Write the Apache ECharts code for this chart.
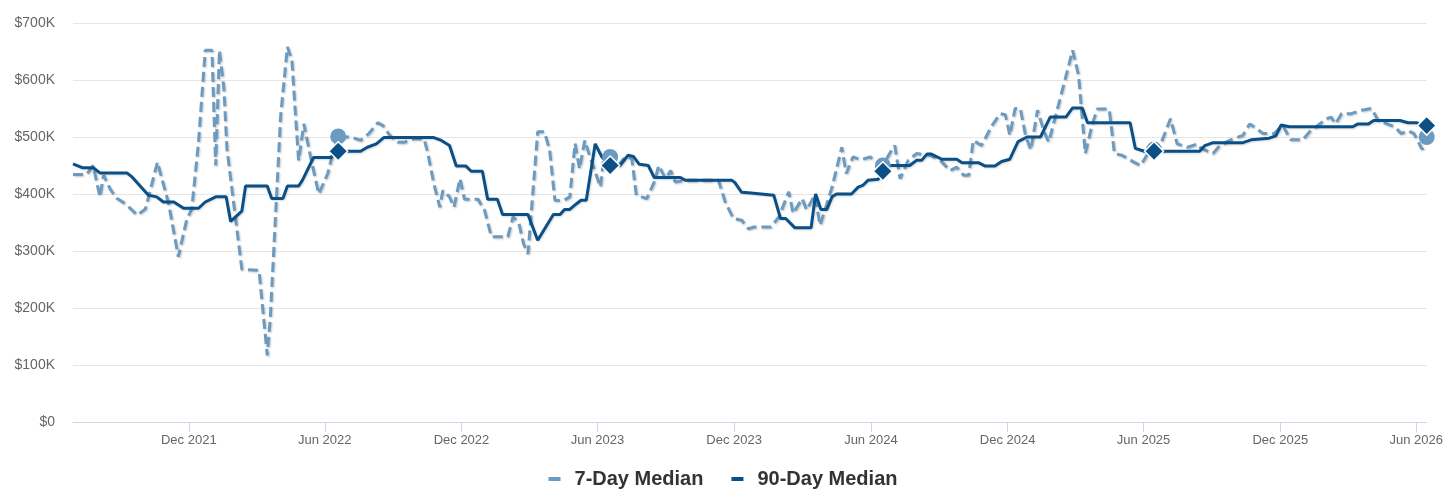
<!DOCTYPE html>
<html><head><meta charset="utf-8">
<script src="https://cdn.jsdelivr.net/npm/echarts@6/dist/echarts.min.js"></script>
<style>html,body{margin:0;padding:0;background:#fff}#c{width:1446px;height:495px}</style>
</head><body><div id="c"></div>
<script>
// ---------- DATA ----------
const seriesNames = ['7-Day Median', '90-Day Median'];

const dates7 = ['2021-06-29','2021-07-17','2021-07-26','2021-08-04','2021-08-09','2021-08-18','2021-08-27','2021-09-07','2021-09-23','2021-10-04','2021-10-20','2021-11-04','2021-11-17','2021-11-28','2021-12-05','2021-12-14','2021-12-23','2022-01-01','2022-01-06','2022-01-11','2022-01-17','2022-01-21','2022-02-10','2022-03-05','2022-03-16','2022-03-20','2022-04-03','2022-04-12','2022-04-18','2022-04-23','2022-04-27','2022-05-04','2022-05-13','2022-05-24','2022-06-05','2022-06-11','2022-06-19','2022-07-06','2022-07-19','2022-07-30','2022-08-11','2022-08-18','2022-08-27','2022-09-07','2022-09-16','2022-09-29','2022-10-12','2022-10-17','2022-10-25','2022-11-02','2022-11-06','2022-11-15','2022-11-21','2022-11-29','2022-12-05','2022-12-23','2023-01-01','2023-01-10','2023-02-01','2023-02-08','2023-02-16','2023-02-22','2023-02-28','2023-03-13','2023-03-22','2023-03-29','2023-04-05','2023-04-16','2023-04-25','2023-05-02','2023-05-08','2023-05-15','2023-05-22','2023-06-05','2023-06-09','2023-06-18','2023-06-29','2023-07-08','2023-07-17','2023-07-23','2023-08-06','2023-08-17','2023-08-22','2023-08-31','2023-09-07','2023-09-13','2023-09-27','2023-11-10','2023-11-19','2023-11-30','2023-12-11','2023-12-20','2023-12-27','2024-01-19','2024-01-30','2024-02-12','2024-02-18','2024-03-01','2024-03-07','2024-03-18','2024-03-25','2024-04-10','2024-04-23','2024-04-29','2024-05-08','2024-05-19','2024-05-31','2024-06-13','2024-06-17','2024-06-26','2024-07-03','2024-07-10','2024-07-21','2024-08-01','2024-08-19','2024-09-02','2024-09-15','2024-09-24','2024-10-03','2024-10-10','2024-10-16','2024-10-27','2024-11-10','2024-11-21','2024-11-28','2024-12-04','2024-12-11','2024-12-18','2024-12-25','2025-01-01','2025-01-10','2025-01-19','2025-01-25','2025-02-07','2025-02-15','2025-02-26','2025-03-06','2025-03-15','2025-03-24','2025-03-31','2025-04-16','2025-04-23','2025-05-03','2025-05-19','2025-05-28','2025-06-09','2025-06-15','2025-06-24','2025-07-07','2025-07-16','2025-07-30','2025-08-12','2025-08-17','2025-09-02','2025-09-11','2025-09-24','2025-10-12','2025-10-21','2025-10-30','2025-11-08','2025-11-23','2025-12-04','2025-12-15','2025-12-31','2026-01-09','2026-01-21','2026-02-01','2026-02-07','2026-02-13','2026-02-21','2026-03-06','2026-03-20','2026-04-02','2026-04-11','2026-04-27','2026-05-03','2026-05-12','2026-05-21','2026-05-29','2026-06-09','2026-06-15'];
const values7 = [434,434,450,395,433,408,392,383,363,374,456,383,290,354,374,491,652,652,450,652,585,480,268,266,117,181,538,658,635,535,459,523,465,400,436,468,501,500,494,506,525,520,503,491,491,497,497,471,418,377,406,395,377,427,391,391,371,325,325,360,348,313,295,509,509,477,389,388,395,489,444,494,465,412,459,465,450,465,462,398,392,424,450,427,441,421,424,424,386,357,354,339,342,342,360,404,366,392,372,398,345,412,482,436,465,460,465,453,450,471,485,427,459,471,468,459,441,447,433,433,494,485,520,541,539,503,550,550,503,477,547,509,491,556,596,652,608,471,521,549,549,471,468,456,450,476,478,488,532,488,482,488,480,471,485,494,503,523,515,506,506,521,495,495,509,521,532,535,523,541,541,547,550,529,521,518,506,511,506,478,500];

const dates90 = ['2021-06-29','2021-07-12','2021-07-26','2021-08-04','2021-09-09','2021-09-16','2021-10-08','2021-10-19','2021-10-28','2021-11-11','2021-11-24','2021-12-14','2021-12-23','2022-01-06','2022-01-20','2022-01-26','2022-02-10','2022-02-15','2022-03-16','2022-03-22','2022-04-06','2022-04-12','2022-04-27','2022-05-02','2022-05-17','2022-06-09','2022-06-19','2022-07-19','2022-07-28','2022-08-09','2022-08-19','2022-10-25','2022-11-04','2022-11-15','2022-11-24','2022-12-07','2022-12-14','2022-12-29','2023-01-05','2023-01-18','2023-01-25','2023-02-28','2023-03-13','2023-04-03','2023-04-12','2023-04-18','2023-04-25','2023-05-04','2023-05-10','2023-05-17','2023-05-29','2023-06-07','2023-06-18','2023-07-01','2023-07-12','2023-07-19','2023-07-27','2023-08-08','2023-08-16','2023-09-20','2023-09-27','2023-11-28','2023-12-02','2023-12-11','2023-12-20','2024-01-23','2024-02-01','2024-02-08','2024-02-20','2024-03-13','2024-03-19','2024-03-26','2024-04-03','2024-04-10','2024-04-16','2024-05-06','2024-05-15','2024-05-21','2024-05-28','2024-06-11','2024-06-17','2024-06-26','2024-07-23','2024-08-01','2024-08-08','2024-08-15','2024-08-21','2024-09-04','2024-09-24','2024-10-01','2024-10-23','2024-11-01','2024-11-14','2024-11-23','2024-12-04','2024-12-15','2024-12-27','2025-01-14','2025-01-27','2025-02-17','2025-02-26','2025-03-11','2025-03-18','2025-05-14','2025-05-21','2025-06-02','2025-06-15','2025-08-15','2025-08-22','2025-09-02','2025-10-12','2025-10-23','2025-11-16','2025-11-25','2025-12-02','2025-12-13','2025-12-27','2026-03-08','2026-03-15','2026-03-29','2026-04-05','2026-05-10','2026-05-21','2026-06-01','2026-06-15'];
const values90 = [453,446,446,437,437,430,398,395,386,386,375,375,386,395,395,352,370,414,414,392,392,414,414,424,464,464,475,475,482,488,499,499,494,485,449,449,440,440,391,391,364,364,319,364,364,373,373,383,389,389,488,465,450,450,468,466,452,450,429,429,424,424,420,403,402,398,357,357,341,341,400,373,373,395,400,400,412,415,424,426,440,450,450,459,459,470,470,461,461,455,455,449,449,457,461,492,500,500,535,535,551,551,525,525,480,475,475,475,485,490,490,495,498,502,521,518,518,518,523,523,529,529,525,525,520];

// same-date-each-year markers
const markerDates = ['2022-06-19','2023-06-18','2024-06-17','2025-06-15','2026-06-15'];
const marker7 = [501,465,450,478,500];
const marker90 = [475,450,440,475,520];

const xTickDates = ['2021-12-01','2022-06-01','2022-12-01','2023-06-01','2023-12-01','2024-06-01','2024-12-01','2025-06-01','2025-12-01','2026-06-01'];
const xMin = '2021-06-29', xMax = '2026-06-15';
const yTicks = [0,100,200,300,400,500,600,700]; // $K
const monthNames = ['Jan','Feb','Mar','Apr','May','Jun','Jul','Aug','Sep','Oct','Nov','Dec'];

// ---------- CHART ----------
const ts = s => { const p = s.split('-').map(Number); return new Date(p[0], p[1]-1, p[2]).getTime(); };
const pairs = (d, v) => d.map((x, i) => [ts(x), v[i]]);
const C7 = '#6b9bc1', C90 = '#0b4f87';
const FONT = '"Liberation Sans", Arial, sans-serif';

const chart = echarts.init(document.getElementById('c'), null, {renderer: 'canvas'});
chart.setOption({
  animation: false,
  backgroundColor: '#fff',
  grid: {left: 73, right: 16, top: 23, bottom: 73, containLabel: false},
  legend: {
    data: [
      {name: seriesNames[0], icon: 'rect', itemStyle: {color: C7}},
      {name: seriesNames[1], icon: 'rect', itemStyle: {color: C90}}
    ],
    bottom: 1, left: 'center',
    itemWidth: 12, itemHeight: 4, itemGap: 28,
    textStyle: {fontFamily: FONT, fontSize: 20, fontWeight: 'bold', color: '#333', padding: [0, 0, 0, 9]}
  },
  xAxis: {
    type: 'value',
    min: ts(xMin), max: ts(xMax),
    axisLine: {lineStyle: {color: '#ccd6eb', width: 1}},
    axisTick: {show: true, length: 10, customValues: xTickDates.map(ts), lineStyle: {color: '#ccd6eb'}},
    axisLabel: {
      customValues: xTickDates.map(ts),
      fontFamily: FONT, fontSize: 13, color: '#666', margin: 12,
      formatter: v => { const d = new Date(v); return monthNames[d.getMonth()] + ' ' + d.getFullYear(); }
    },
    splitLine: {show: false}
  },
  yAxis: {
    type: 'value', min: yTicks[0], max: yTicks[yTicks.length-1], interval: 100,
    axisLine: {show: false}, axisTick: {show: false},
    axisLabel: {fontFamily: FONT, fontSize: 14, color: '#666', margin: 18,
      formatter: v => v === 0 ? '$0' : '$' + v + 'K'},
    splitLine: {lineStyle: {color: '#e6e6e6', width: 1}}
  },
  series: [
    {
      name: seriesNames[0], type: 'line', data: pairs(dates7, values7),
      symbol: 'none', color: C7, z: 2,
      lineStyle: {color: C7, width: 3, type: [10, 5],
        shadowColor: 'rgba(0,0,0,0.22)', shadowBlur: 2, shadowOffsetX: 1, shadowOffsetY: 1}
    },
    {
      name: seriesNames[1], type: 'line', data: pairs(dates90, values90),
      symbol: 'none', color: C90, z: 3,
      lineStyle: {color: C90, width: 3,
        shadowColor: 'rgba(0,0,0,0.15)', shadowBlur: 2, shadowOffsetX: 1, shadowOffsetY: 1}
    },
    {
      name: 'm7', type: 'scatter', data: pairs(markerDates, marker7),
      symbol: 'circle', symbolSize: 16, z: 4,
      itemStyle: {color: C7, opacity: 1}
    },
    {
      name: 'm90', type: 'scatter', data: pairs(markerDates, marker90),
      symbol: 'diamond', symbolSize: 19, z: 5,
      itemStyle: {color: C90, opacity: 1, borderColor: '#fff', borderWidth: 1.5}
    }
  ]
});
</script>
</body></html>
